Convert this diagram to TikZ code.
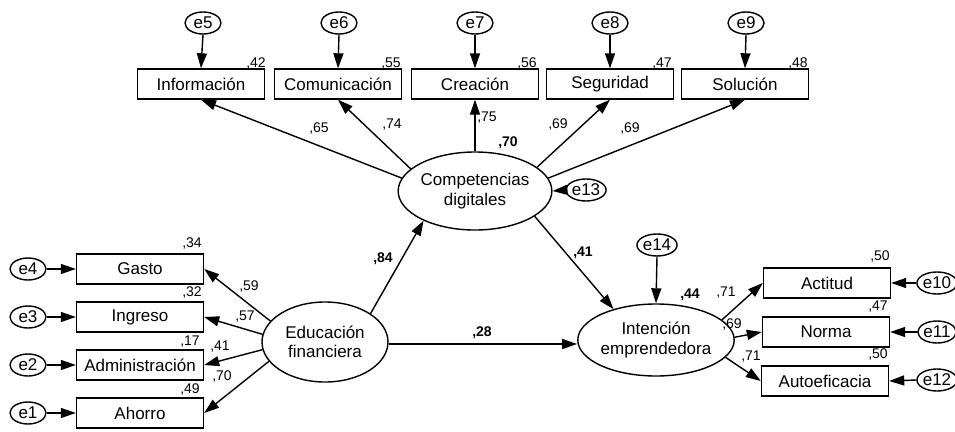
\documentclass[tikz,border=0pt]{standalone}
\usepackage{fontspec}
\setmainfont{Liberation Sans}
\usetikzlibrary{arrows.meta,shapes.geometric}
\begin{document}
\begin{tikzpicture}[x=1pt,y=-1pt,
  obs/.style={draw,line width=1.4pt,minimum width=127pt,minimum height=30pt,inner sep=0pt,font=\fontsize{17}{19}\selectfont},
  lat/.style={draw,ellipse,line width=1.4pt,inner sep=0pt,align=center,font=\fontsize{17}{19.5}\selectfont},
  err/.style={draw,ellipse,line width=1.4pt,minimum width=36pt,minimum height=22pt,inner sep=0pt,font=\fontsize{17}{19}\selectfont},
  coef/.style={inner sep=0pt,font=\fontsize{14}{14}\selectfont},
  bcoef/.style={inner sep=0pt,font=\fontsize{14}{14}\selectfont\bfseries},
  arr/.style={line width=1.4pt,-{Triangle[length=15pt,width=10pt]}}
]
\useasboundingbox (0,0) rectangle (955,431);

% latent variables
\node[lat,minimum width=124pt,minimum height=78pt] (cd) at (475,191) {Competencias\\digitales};
\node[lat,minimum width=126pt,minimum height=80pt] (ef) at (325,342) {Educación\\financiera};
\node[lat,minimum width=122pt,minimum height=72pt] (ie) at (656,340) {Intención\\emprendedora};

% indicators of Competencias digitales
\node[obs] (inf) at (201,84) {Información};
\node[obs] (com) at (338,84) {Comunicación};
\node[obs] (cre) at (475,84) {Creación};
\node[obs] (seg) at (610,84) {Seguridad};
\node[obs] (sol) at (745,84) {Solución};

% indicators of Educación financiera
\node[obs] (gas) at (140,269) {Gasto};
\node[obs] (ing) at (140,317) {Ingreso};
\node[obs] (adm) at (140,365) {Administración};
\node[obs] (aho) at (140,413) {Ahorro};

% indicators of Intención emprendedora
\node[obs] (act) at (827,283) {Actitud};
\node[obs] (nor) at (826,332) {Norma};
\node[obs] (aut) at (825,381) {Autoeficacia};

% error terms
\node[err] (e5) at (203,23) {e5};
\node[err] (e6) at (339,23) {e6};
\node[err] (e7) at (475,23) {e7};
\node[err] (e8) at (610,23) {e8};
\node[err] (e9) at (746,23) {e9};
\node[err] (e4) at (28,269) {e4};
\node[err] (e3) at (28,317) {e3};
\node[err] (e2) at (28,365) {e2};
\node[err] (e1) at (28,413) {e1};
\node[err] (e10) at (937,283) {e10};
\node[err] (e11) at (937,332) {e11};
\node[err] (e12) at (937,380) {e12};
\node[err] (e13) at (586,190) {e13};
\node[err] (e14) at (657,245) {e14};

% error arrows
\foreach \e/\v in {e5/inf,e6/com,e7/cre,e8/seg,e9/sol}
  \draw[arr] (\e.south) -- (\v.north);
\foreach \e/\v in {e4/gas,e3/ing,e2/adm,e1/aho}
  \draw[arr] (\e.east) -- (\v.west);
\foreach \e/\v in {e10/act,e11/nor,e12/aut}
  \draw[arr] (\e.west) -- (\v.east);
\draw[arr] (e13.west) -- (cd.east);
\draw[arr] (e14.south) -- (ie.north);

% loadings
\draw[arr] (cd.170) -- (inf.south);
\draw[arr] (cd.161) -- (com.south);
\draw[arr] (cd.north) -- (cre.south);
\draw[arr] (cd.21) -- (seg.south);
\draw[arr] (cd.10) -- (sol.south);
\draw[arr] (ef.159) -- (gas.east);
\draw[arr] (ef.173) -- (ing.east);
\draw[arr] (ef.187) -- (adm.east);
\draw[arr] (ef.199) -- (aho.east);
\draw[arr] (ie.17) -- (act.west);
\draw[arr] (ie.2) -- (nor.west);
\draw[arr] (ie.346) -- (aut.west);

% structural paths
\draw[arr] (ef.32) -- (cd.210);
\draw[arr] (cd.337) -- (ie.144);
\draw[arr] (ef.east |- 0,344) -- (ie.west |- 0,344);

% squared multiple correlations
\node[coef] (r5) at (256,64) {,42};
\node[coef] (r6) at (391,64) {,55};
\node[coef] (r7) at (527,64) {,56};
\node[coef] (r8) at (662,64) {,47};
\node[coef] (r9) at (798,64) {,48};
\node[coef] (r4) at (192,244) {,34};
\node[coef] (r3) at (192,293) {,32};
\node[coef] (r2) at (190,342) {,17};
\node[coef] (r1) at (190,390) {,49};
\node[coef] (r10) at (880,257) {,50};
\node[coef] (r11) at (878,307) {,47};
\node[coef] (r12) at (878,355) {,50};
\node[bcoef] (rcd) at (508,143) {,70};
\node[bcoef] (rie) at (690,295) {,44};

% loading values
\node[coef] (l5) at (319,129) {,65};
\node[coef] (l6) at (392,125) {,74};
\node[coef] (l7) at (487,118) {,75};
\node[coef] (l8) at (558,125) {,69};
\node[coef] (l9) at (630,129) {,69};
\node[coef] (l4) at (249,287) {,59};
\node[coef] (l3) at (245,317) {,57};
\node[coef] (l2) at (220,347) {,41};
\node[coef] (l1) at (222,377) {,70};
\node[coef] (l10) at (726,293) {,71};
\node[coef] (l11) at (732,325) {,69};
\node[coef] (l12) at (751,357) {,71};

% path coefficients
\node[bcoef] (p1) at (383,259) {,84};
\node[bcoef] (p2) at (583,253) {,41};
\node[bcoef] (p3) at (482,333) {,28};
\end{tikzpicture}
\end{document}
